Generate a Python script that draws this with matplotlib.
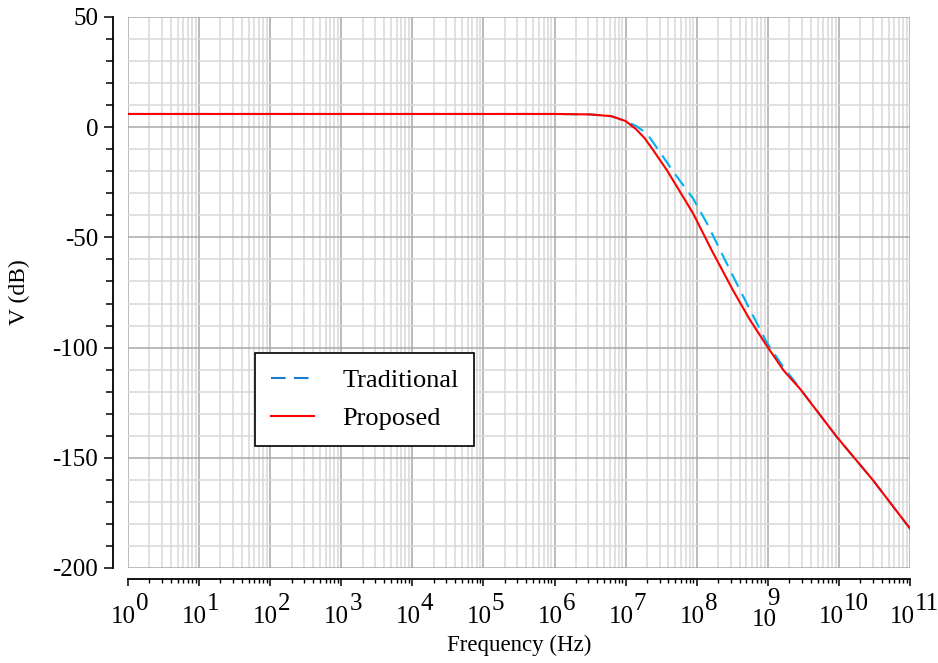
import numpy as np
import matplotlib
matplotlib.use("Agg")
import matplotlib.pyplot as plt
from matplotlib.ticker import MultipleLocator, LogLocator, NullFormatter
from matplotlib.lines import Line2D
import matplotlib.transforms as mtransforms

# ---------------- data ----------------
trad_logf = [0, 6.0, 6.5, 6.8, 7.0, 7.15, 7.3, 7.48, 7.7, 7.95, 8.15, 8.33,
             8.61, 8.8, 8.98, 9.2, 9.4, 9.97, 10.48, 11.0]
trad_db = [6.0, 6.0, 5.8, 5.0, 2.8, 0.5, -2.9, -11.2, -21.5, -32.4, -44.0, -55.8,
           -74.0, -86.0, -97.4, -108.0, -116.3, -140.5, -160.2, -182.1]

prop_logf = [0, 6.0, 6.5, 6.8, 7.0, 7.15, 7.27, 7.4, 7.58, 7.75, 7.95, 8.21,
             8.51, 8.75, 8.98, 9.22, 9.45, 9.97, 10.48, 11.0]
prop_db = [6.0, 6.0, 5.8, 5.0, 2.8, -1.0, -5.1, -11.0, -19.5, -28.5, -39.2, -55.8,
           -74.0, -87.5, -98.9, -110.3, -118.6, -140.5, -160.2, -182.1]

series_labels = ["Traditional", "Proposed"]
xtick_exponents = list(range(0, 12))
ytick_values = [50, 0, -50, -100, -150, -200]

# ---------------- style ----------------
plt.rcParams['font.family'] = ['Liberation Serif', 'DejaVu Serif']
FS = 18
W, H = 938, 663
fig = plt.figure(figsize=(W / 100, H / 100), dpi=100)
ax = fig.add_axes([128 / W, 95 / H, 782 / W, 551 / H])

blue = '#00b0f0'
red = '#ff0000'

ax.plot(10.0 ** np.array(trad_logf), trad_db, color=blue, lw=1.5,
        dashes=(7, 4), zorder=3)
ax.plot(10.0 ** np.array(prop_logf), prop_db, color=red, lw=1.5, zorder=4)

ax.set_xscale('log')
ax.set_xlim(1, 1e11)
ax.set_ylim(-200, 50)

ax.yaxis.set_major_locator(MultipleLocator(50))
ax.yaxis.set_minor_locator(MultipleLocator(10))
ax.set_yticks(ytick_values)
ax.set_yticklabels([str(v) for v in ytick_values])
ax.xaxis.set_major_locator(LogLocator(base=10, numticks=20))
ax.xaxis.set_minor_locator(LogLocator(base=10, subs=np.arange(2, 10), numticks=200))
ax.xaxis.set_major_formatter(NullFormatter())
ax.xaxis.set_minor_formatter(NullFormatter())

ax.grid(which='major', color='#a8a8a8', lw=1.1, zorder=0)
ax.grid(which='minor', color='#d9d9d9', lw=1.1, zorder=0)
ax.set_axisbelow(True)

for s in ['top', 'right']:
    ax.spines[s].set_visible(False)
ax.spines['left'].set_position(('outward', 11))
ax.spines['bottom'].set_position(('outward', 8))
for s in ['left', 'bottom']:
    ax.spines[s].set_color('black')
    ax.spines[s].set_linewidth(1.3)

ax.tick_params(axis='y', which='major', direction='out', length=6.5, width=1.1,
               labelsize=FS, pad=4, color='black')
ax.tick_params(axis='y', which='minor', direction='out', length=5, width=1.1,
               color='black')
ax.tick_params(axis='x', which='major', direction='out', length=5, width=1.1,
               color='black')
ax.tick_params(axis='x', which='minor', direction='out', length=3, width=1.0,
               color='black')

# x tick labels: "10" with a full-size exponent
trans = mtransforms.blended_transform_factory(ax.transData, ax.transAxes)
for e in xtick_exponents:
    xv = 10.0 ** e
    if e == 9:
        base_off, exp_off, base_dy, exp_dy = 9, -1, -3, 5
    elif e >= 10:
        base_off, exp_off, base_dy, exp_dy = 5, 5, 0, 0
    else:
        base_off, exp_off, base_dy, exp_dy = 8, 8, 0, 0
    tb = mtransforms.offset_copy(trans, fig=fig, x=base_off, y=-49 + base_dy, units='dots')
    te = mtransforms.offset_copy(trans, fig=fig, x=exp_off, y=-36 + exp_dy, units='dots')
    ax.text(xv, 0, "10", transform=tb, ha='right', va='center', fontsize=FS,
            clip_on=False)
    ax.text(xv, 0, str(e), transform=te, ha='left', va='center', fontsize=FS,
            clip_on=False)

ax.set_xlabel("Frequency (Hz)", fontsize=16.5)
ax.xaxis.set_label_coords(0.5, -0.122)
ax.set_ylabel("V (dB)", fontsize=17)
ax.yaxis.set_label_coords(-0.125, 0.5)

handles = [Line2D([], [], color='#1a7ccc', lw=1.5, dashes=(7, 4)),
           Line2D([], [], color=red, lw=1.5)]
leg = ax.legend(handles, series_labels, loc='upper left',
                bbox_to_anchor=((255 - 128) / 782, (568 - 353) / 551),
                borderaxespad=0, prop={'size': 19}, frameon=True, fancybox=False,
                framealpha=1, edgecolor='black', handlelength=1.65,
                handletextpad=1.05, borderpad=0.6, labelspacing=0.55)
leg.get_frame().set_linewidth(1.2)

fig.savefig("out.png", dpi=100)
